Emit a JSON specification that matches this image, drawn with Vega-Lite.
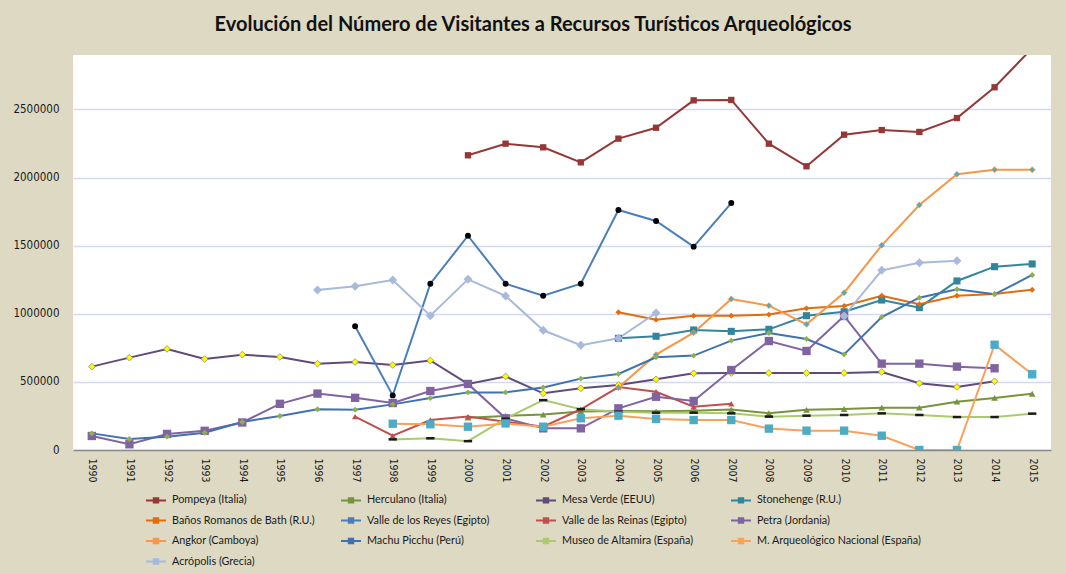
{
"$schema": "https://vega.github.io/schema/vega-lite/v6.json",
"width": 978, "height": 395,
"autosize": "none",
"padding": {"left": 73, "top": 55, "right": 15, "bottom": 124},
"background": "#DDD9C3",
"title": {"text": "Evolución del Número de Visitantes a  Recursos Turísticos  Arqueológicos", "font": "Lato", "fontSize": 20, "fontWeight": "bold", "color": "#111111", "anchor": "middle", "offset": 20, "dx": -29},
"config": {"view": {"fill": "white", "stroke": null}},
"datasets": {"d": [
{"s":"Pompeya (Italia)","y":2000,"v":2163700},{"s":"Pompeya (Italia)","y":2001,"v":2249000},{"s":"Pompeya (Italia)","y":2002,"v":2222000},{"s":"Pompeya (Italia)","y":2003,"v":2112000},{"s":"Pompeya (Italia)","y":2004,"v":2286000},{"s":"Pompeya (Italia)","y":2005,"v":2366000},{"s":"Pompeya (Italia)","y":2006,"v":2567000},{"s":"Pompeya (Italia)","y":2007,"v":2570000},{"s":"Pompeya (Italia)","y":2008,"v":2249000},{"s":"Pompeya (Italia)","y":2009,"v":2083000},{"s":"Pompeya (Italia)","y":2010,"v":2315000},{"s":"Pompeya (Italia)","y":2011,"v":2349000},{"s":"Pompeya (Italia)","y":2012,"v":2335000},{"s":"Pompeya (Italia)","y":2013,"v":2437000},{"s":"Pompeya (Italia)","y":2014,"v":2663000},{"s":"Pompeya (Italia)","y":2015,"v":2950000},
{"s":"Herculano (Italia)","y":2000,"v":237000},{"s":"Herculano (Italia)","y":2001,"v":250000},{"s":"Herculano (Italia)","y":2002,"v":260000},{"s":"Herculano (Italia)","y":2003,"v":283000},{"s":"Herculano (Italia)","y":2004,"v":287000},{"s":"Herculano (Italia)","y":2005,"v":284000},{"s":"Herculano (Italia)","y":2006,"v":289000},{"s":"Herculano (Italia)","y":2007,"v":297000},{"s":"Herculano (Italia)","y":2008,"v":270000},{"s":"Herculano (Italia)","y":2009,"v":295000},{"s":"Herculano (Italia)","y":2010,"v":301000},{"s":"Herculano (Italia)","y":2011,"v":311000},{"s":"Herculano (Italia)","y":2012,"v":311000},{"s":"Herculano (Italia)","y":2013,"v":355000},{"s":"Herculano (Italia)","y":2014,"v":382000},{"s":"Herculano (Italia)","y":2015,"v":413000},
{"s":"Mesa Verde (EEUU)","y":1990,"v":612000},{"s":"Mesa Verde (EEUU)","y":1991,"v":678000},{"s":"Mesa Verde (EEUU)","y":1992,"v":742000},{"s":"Mesa Verde (EEUU)","y":1993,"v":668000},{"s":"Mesa Verde (EEUU)","y":1994,"v":700000},{"s":"Mesa Verde (EEUU)","y":1995,"v":683000},{"s":"Mesa Verde (EEUU)","y":1996,"v":634000},{"s":"Mesa Verde (EEUU)","y":1997,"v":646000},{"s":"Mesa Verde (EEUU)","y":1998,"v":624000},{"s":"Mesa Verde (EEUU)","y":1999,"v":657000},{"s":"Mesa Verde (EEUU)","y":2000,"v":485000},{"s":"Mesa Verde (EEUU)","y":2001,"v":540000},{"s":"Mesa Verde (EEUU)","y":2002,"v":416000},{"s":"Mesa Verde (EEUU)","y":2003,"v":453000},{"s":"Mesa Verde (EEUU)","y":2004,"v":477000},{"s":"Mesa Verde (EEUU)","y":2005,"v":519000},{"s":"Mesa Verde (EEUU)","y":2006,"v":563000},{"s":"Mesa Verde (EEUU)","y":2007,"v":565000},{"s":"Mesa Verde (EEUU)","y":2008,"v":565000},{"s":"Mesa Verde (EEUU)","y":2009,"v":565000},{"s":"Mesa Verde (EEUU)","y":2010,"v":565000},{"s":"Mesa Verde (EEUU)","y":2011,"v":573000},{"s":"Mesa Verde (EEUU)","y":2012,"v":490000},{"s":"Mesa Verde (EEUU)","y":2013,"v":463000},{"s":"Mesa Verde (EEUU)","y":2014,"v":504000},
{"s":"Stonehenge (R.U.)","y":2004,"v":820000},{"s":"Stonehenge (R.U.)","y":2005,"v":835000},{"s":"Stonehenge (R.U.)","y":2006,"v":881000},{"s":"Stonehenge (R.U.)","y":2007,"v":871000},{"s":"Stonehenge (R.U.)","y":2008,"v":886000},{"s":"Stonehenge (R.U.)","y":2009,"v":986000},{"s":"Stonehenge (R.U.)","y":2010,"v":1015000},{"s":"Stonehenge (R.U.)","y":2011,"v":1101000},{"s":"Stonehenge (R.U.)","y":2012,"v":1045000},{"s":"Stonehenge (R.U.)","y":2013,"v":1241000},{"s":"Stonehenge (R.U.)","y":2014,"v":1346000},{"s":"Stonehenge (R.U.)","y":2015,"v":1366000},
{"s":"Baños Romanos de Bath (R.U.)","y":2004,"v":1011000},{"s":"Baños Romanos de Bath (R.U.)","y":2005,"v":957000},{"s":"Baños Romanos de Bath (R.U.)","y":2006,"v":986000},{"s":"Baños Romanos de Bath (R.U.)","y":2007,"v":986000},{"s":"Baños Romanos de Bath (R.U.)","y":2008,"v":994000},{"s":"Baños Romanos de Bath (R.U.)","y":2009,"v":1040000},{"s":"Baños Romanos de Bath (R.U.)","y":2010,"v":1057000},{"s":"Baños Romanos de Bath (R.U.)","y":2011,"v":1133000},{"s":"Baños Romanos de Bath (R.U.)","y":2012,"v":1070000},{"s":"Baños Romanos de Bath (R.U.)","y":2013,"v":1133000},{"s":"Baños Romanos de Bath (R.U.)","y":2014,"v":1145000},{"s":"Baños Romanos de Bath (R.U.)","y":2015,"v":1177000},
{"s":"Valle de los Reyes (Egipto)","y":1997,"v":908000},{"s":"Valle de los Reyes (Egipto)","y":1998,"v":401000},{"s":"Valle de los Reyes (Egipto)","y":1999,"v":1221000},{"s":"Valle de los Reyes (Egipto)","y":2000,"v":1573000},{"s":"Valle de los Reyes (Egipto)","y":2001,"v":1221000},{"s":"Valle de los Reyes (Egipto)","y":2002,"v":1133000},{"s":"Valle de los Reyes (Egipto)","y":2003,"v":1221000},{"s":"Valle de los Reyes (Egipto)","y":2004,"v":1762000},{"s":"Valle de los Reyes (Egipto)","y":2005,"v":1681000},{"s":"Valle de los Reyes (Egipto)","y":2006,"v":1493000},{"s":"Valle de los Reyes (Egipto)","y":2007,"v":1813000},
{"s":"Valle de las Reinas (Egipto)","y":1997,"v":245000},{"s":"Valle de las Reinas (Egipto)","y":1998,"v":105000},{"s":"Valle de las Reinas (Egipto)","y":1999,"v":220000},{"s":"Valle de las Reinas (Egipto)","y":2000,"v":245000},{"s":"Valle de las Reinas (Egipto)","y":2001,"v":208000},{"s":"Valle de las Reinas (Egipto)","y":2002,"v":171000},{"s":"Valle de las Reinas (Egipto)","y":2003,"v":299000},{"s":"Valle de las Reinas (Egipto)","y":2004,"v":462000},{"s":"Valle de las Reinas (Egipto)","y":2005,"v":428000},{"s":"Valle de las Reinas (Egipto)","y":2006,"v":318000},{"s":"Valle de las Reinas (Egipto)","y":2007,"v":339000},
{"s":"Petra (Jordania)","y":1990,"v":103000},{"s":"Petra (Jordania)","y":1991,"v":42000},{"s":"Petra (Jordania)","y":1992,"v":118000},{"s":"Petra (Jordania)","y":1993,"v":141000},{"s":"Petra (Jordania)","y":1994,"v":202000},{"s":"Petra (Jordania)","y":1995,"v":339000},{"s":"Petra (Jordania)","y":1996,"v":414000},{"s":"Petra (Jordania)","y":1997,"v":383000},{"s":"Petra (Jordania)","y":1998,"v":345000},{"s":"Petra (Jordania)","y":1999,"v":433000},{"s":"Petra (Jordania)","y":2000,"v":485000},{"s":"Petra (Jordania)","y":2001,"v":233000},{"s":"Petra (Jordania)","y":2002,"v":159000},{"s":"Petra (Jordania)","y":2003,"v":159000},{"s":"Petra (Jordania)","y":2004,"v":306000},{"s":"Petra (Jordania)","y":2005,"v":391000},{"s":"Petra (Jordania)","y":2006,"v":360000},{"s":"Petra (Jordania)","y":2007,"v":587000},{"s":"Petra (Jordania)","y":2008,"v":800000},{"s":"Petra (Jordania)","y":2009,"v":727000},{"s":"Petra (Jordania)","y":2010,"v":984000},{"s":"Petra (Jordania)","y":2011,"v":634000},{"s":"Petra (Jordania)","y":2012,"v":634000},{"s":"Petra (Jordania)","y":2013,"v":612000},{"s":"Petra (Jordania)","y":2014,"v":600000},
{"s":"Angkor (Camboya)","y":2004,"v":458000},{"s":"Angkor (Camboya)","y":2005,"v":700000},{"s":"Angkor (Camboya)","y":2006,"v":862000},{"s":"Angkor (Camboya)","y":2007,"v":1109000},{"s":"Angkor (Camboya)","y":2008,"v":1060000},{"s":"Angkor (Camboya)","y":2009,"v":923000},{"s":"Angkor (Camboya)","y":2010,"v":1155000},{"s":"Angkor (Camboya)","y":2011,"v":1503000},{"s":"Angkor (Camboya)","y":2012,"v":1799000},{"s":"Angkor (Camboya)","y":2013,"v":2024000},{"s":"Angkor (Camboya)","y":2014,"v":2058000},{"s":"Angkor (Camboya)","y":2015,"v":2058000},
{"s":"Machu Picchu (Perú)","y":1990,"v":122000},{"s":"Machu Picchu (Perú)","y":1991,"v":81000},{"s":"Machu Picchu (Perú)","y":1992,"v":98000},{"s":"Machu Picchu (Perú)","y":1993,"v":127000},{"s":"Machu Picchu (Perú)","y":1994,"v":206000},{"s":"Machu Picchu (Perú)","y":1995,"v":250000},{"s":"Machu Picchu (Perú)","y":1996,"v":299000},{"s":"Machu Picchu (Perú)","y":1997,"v":296000},{"s":"Machu Picchu (Perú)","y":1998,"v":335000},{"s":"Machu Picchu (Perú)","y":1999,"v":381000},{"s":"Machu Picchu (Perú)","y":2000,"v":423000},{"s":"Machu Picchu (Perú)","y":2001,"v":423000},{"s":"Machu Picchu (Perú)","y":2002,"v":459000},{"s":"Machu Picchu (Perú)","y":2003,"v":524000},{"s":"Machu Picchu (Perú)","y":2004,"v":558000},{"s":"Machu Picchu (Perú)","y":2005,"v":681000},{"s":"Machu Picchu (Perú)","y":2006,"v":693000},{"s":"Machu Picchu (Perú)","y":2007,"v":803000},{"s":"Machu Picchu (Perú)","y":2008,"v":859000},{"s":"Machu Picchu (Perú)","y":2009,"v":815000},{"s":"Machu Picchu (Perú)","y":2010,"v":702000},{"s":"Machu Picchu (Perú)","y":2011,"v":976000},{"s":"Machu Picchu (Perú)","y":2012,"v":1118000},{"s":"Machu Picchu (Perú)","y":2013,"v":1180000},{"s":"Machu Picchu (Perú)","y":2014,"v":1143000},{"s":"Machu Picchu (Perú)","y":2015,"v":1285000},
{"s":"Museo de Altamira (España)","y":1998,"v":78000},{"s":"Museo de Altamira (España)","y":1999,"v":86000},{"s":"Museo de Altamira (España)","y":2000,"v":65000},{"s":"Museo de Altamira (España)","y":2001,"v":230000},{"s":"Museo de Altamira (España)","y":2002,"v":366000},{"s":"Museo de Altamira (España)","y":2003,"v":300000},{"s":"Museo de Altamira (España)","y":2004,"v":281000},{"s":"Museo de Altamira (España)","y":2005,"v":274000},{"s":"Museo de Altamira (España)","y":2006,"v":274000},{"s":"Museo de Altamira (España)","y":2007,"v":269000},{"s":"Museo de Altamira (España)","y":2008,"v":245000},{"s":"Museo de Altamira (España)","y":2009,"v":252000},{"s":"Museo de Altamira (España)","y":2010,"v":257000},{"s":"Museo de Altamira (España)","y":2011,"v":269000},{"s":"Museo de Altamira (España)","y":2012,"v":257000},{"s":"Museo de Altamira (España)","y":2013,"v":242000},{"s":"Museo de Altamira (España)","y":2014,"v":242000},{"s":"Museo de Altamira (España)","y":2015,"v":267000},
{"s":"M. Arqueológico Nacional (España)","y":1998,"v":193000},{"s":"M. Arqueológico Nacional (España)","y":1999,"v":189000},{"s":"M. Arqueológico Nacional (España)","y":2000,"v":171000},{"s":"M. Arqueológico Nacional (España)","y":2001,"v":195000},{"s":"M. Arqueológico Nacional (España)","y":2002,"v":171000},{"s":"M. Arqueológico Nacional (España)","y":2003,"v":233000},{"s":"M. Arqueológico Nacional (España)","y":2004,"v":252000},{"s":"M. Arqueológico Nacional (España)","y":2005,"v":228000},{"s":"M. Arqueológico Nacional (España)","y":2006,"v":220000},{"s":"M. Arqueológico Nacional (España)","y":2007,"v":220000},{"s":"M. Arqueológico Nacional (España)","y":2008,"v":157000},{"s":"M. Arqueológico Nacional (España)","y":2009,"v":142000},{"s":"M. Arqueológico Nacional (España)","y":2010,"v":142000},{"s":"M. Arqueológico Nacional (España)","y":2011,"v":105000},{"s":"M. Arqueológico Nacional (España)","y":2012,"v":0},{"s":"M. Arqueológico Nacional (España)","y":2013,"v":0},{"s":"M. Arqueológico Nacional (España)","y":2014,"v":773000},{"s":"M. Arqueológico Nacional (España)","y":2015,"v":556000},
{"s":"Acrópolis (Grecia)","y":1996,"v":1175000},{"s":"Acrópolis (Grecia)","y":1997,"v":1202000},{"s":"Acrópolis (Grecia)","y":1998,"v":1248000},{"s":"Acrópolis (Grecia)","y":1999,"v":986000},{"s":"Acrópolis (Grecia)","y":2000,"v":1253000},{"s":"Acrópolis (Grecia)","y":2001,"v":1131000},{"s":"Acrópolis (Grecia)","y":2002,"v":879000},{"s":"Acrópolis (Grecia)","y":2003,"v":769000},{"s":"Acrópolis (Grecia)","y":2004,"v":820000},{"s":"Acrópolis (Grecia)","y":2005,"v":1006000},{"s":"Acrópolis (Grecia)","y":2006,"v":null},{"s":"Acrópolis (Grecia)","y":2007,"v":null},{"s":"Acrópolis (Grecia)","y":2008,"v":null},{"s":"Acrópolis (Grecia)","y":2009,"v":null},{"s":"Acrópolis (Grecia)","y":2010,"v":984000},{"s":"Acrópolis (Grecia)","y":2011,"v":1319000},{"s":"Acrópolis (Grecia)","y":2012,"v":1375000},{"s":"Acrópolis (Grecia)","y":2013,"v":1390000}
]},
"data": {"name": "d"},
"encoding": {
  "x": {"field": "y", "type": "ordinal", "scale": {"type": "point", "padding": 0.5},
        "axis": {"title": null, "labelAngle": 90, "labelFont": "DejaVu Sans Condensed", "labelFontSize": 10.5, "labelColor": "#1a1a1a", "labelPadding": 8, "ticks": false, "grid": false, "domainColor": "#8a8a8a", "domainWidth": 1.5}},
  "y": {"field": "v", "type": "quantitative", "scale": {"domain": [0, 2900000], "nice": false},
        "axis": {"title": null, "values": [0, 500000, 1000000, 1500000, 2000000, 2500000], "format": "d", "domain": false, "ticks": false, "labelPadding": 14, "labelFont": "DejaVu Sans Condensed", "labelFontSize": 11.5, "labelColor": "#1a1a1a", "gridColor": "#D3DAEF", "gridWidth": 1.3}}
},
"layer": [
  {"mark": {"type": "line", "strokeWidth": 2, "clip": true, "invalid": "break-paths-filter-domains"},
   "encoding": {"color": {"field": "s", "type": "nominal",
     "scale": {"domain": ["Pompeya (Italia)","Herculano (Italia)","Mesa Verde (EEUU)","Stonehenge (R.U.)","Baños Romanos de Bath (R.U.)","Valle de los Reyes (Egipto)","Valle de las Reinas (Egipto)","Petra (Jordania)","Angkor (Camboya)","Machu Picchu (Perú)","Museo de Altamira (España)","M. Arqueológico Nacional (España)","Acrópolis (Grecia)"],
               "range": ["#953735","#77933C","#604A7B","#31859C","#E46C0A","#4A7EBB","#C0504D","#8064A2","#F79646","#3F72AE","#A9CB6E","#F9A15A","#A7B9DD"]},
     "legend": {"orient": "none", "legendX": 72, "legendY": 434, "columns": 4, "direction": "horizontal", "title": null, "gridAlign": "all",
                "symbolType": "M-1,0H1M-0.22,-0.22H0.22V0.22H-0.22Z", "symbolSize": 400, "symbolStrokeWidth": 2,
                "labelFont": "Lato", "labelFontSize": 10.8, "labelColor": "#1a1a1a", "labelOffset": 5, "labelLimit": 200,
                "rowPadding": 2.5, "columnPadding": 0,
                "encode": {"symbols": {"update": {
                   "opacity": {"value": 1},
                   "fill": {"scale": "color", "field": "value"}}}}}}}},
  {"mark": {"type": "point", "filled": true, "clip": true, "opacity": 1},
   "encoding": {
     "fill": {"condition": [
        {"test": "datum.s === 'Pompeya (Italia)'", "value": "#953735"},
        {"test": "datum.s === 'Herculano (Italia)'", "value": "#77933C"},
        {"test": "datum.s === 'Mesa Verde (EEUU)'", "value": "#FFFF00"},
        {"test": "datum.s === 'Stonehenge (R.U.)'", "value": "#31859C"},
        {"test": "datum.s === 'Baños Romanos de Bath (R.U.)'", "value": "#E46C0A"},
        {"test": "datum.s === 'Valle de los Reyes (Egipto)'", "value": "#000000"},
        {"test": "datum.s === 'Valle de las Reinas (Egipto)'", "value": "#C0504D"},
        {"test": "datum.s === 'Petra (Jordania)'", "value": "#8064A2"},
        {"test": "datum.s === 'Angkor (Camboya)'", "value": "#4BACC6"},
        {"test": "datum.s === 'Machu Picchu (Perú)'", "value": "#8DB04E"},
        {"test": "datum.s === 'Museo de Altamira (España)'", "value": "#1a1a1a"},
        {"test": "datum.s === 'M. Arqueológico Nacional (España)'", "value": "#4BACC6"}],
        "value": "#A7B9DD"},
     "stroke": {"condition": [
        {"test": "datum.s === 'Mesa Verde (EEUU)'", "value": "#8C8C6A"},
        {"test": "datum.s === 'Angkor (Camboya)'", "value": "#F79646"}],
        "value": "transparent"},
     "strokeWidth": {"value": 0.8},
     "shape": {"condition": [
        {"test": "indexof(['Pompeya (Italia)','Stonehenge (R.U.)','Petra (Jordania)','M. Arqueológico Nacional (España)'], datum.s) >= 0", "value": "square"},
        {"test": "indexof(['Herculano (Italia)','Valle de las Reinas (Egipto)'], datum.s) >= 0", "value": "triangle-up"},
        {"test": "datum.s === 'Valle de los Reyes (Egipto)'", "value": "circle"},
        {"test": "datum.s === 'Museo de Altamira (España)'", "value": "M-1,-0.3H1V0.3H-1Z"}],
        "value": "diamond"},
     "size": {"condition": [
        {"test": "datum.s === 'Acrópolis (Grecia)'", "value": 80},
        {"test": "indexof(['Petra (Jordania)','M. Arqueológico Nacional (España)','Museo de Altamira (España)'], datum.s) >= 0", "value": 70},
        {"test": "datum.s === 'Stonehenge (R.U.)'", "value": 50},
        {"test": "indexof(['Herculano (Italia)','Mesa Verde (EEUU)'], datum.s) >= 0", "value": 45},
        {"test": "indexof(['Pompeya (Italia)','Valle de las Reinas (Egipto)'], datum.s) >= 0", "value": 40}],
        "value": 35}
   }}
]
}
